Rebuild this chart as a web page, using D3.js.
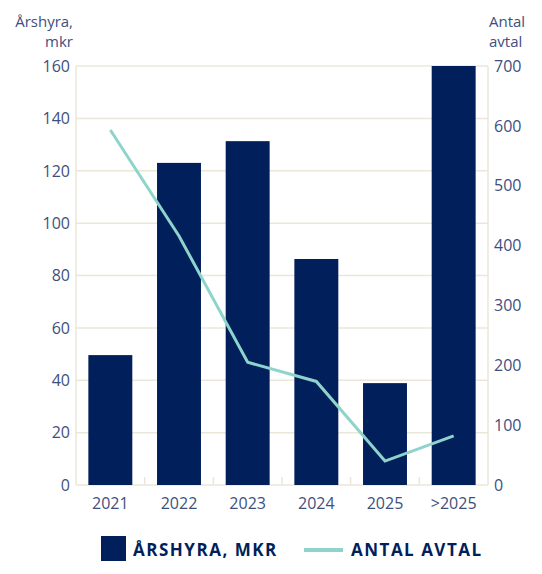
<!DOCTYPE html>
<html>
<head>
<meta charset="utf-8">
<script src="https://cdn.jsdelivr.net/npm/d3@7"></script>
<style>
  body { margin: 0; background: #fff; }
  svg text { font-family: "Open Sans", sans-serif; }
</style>
</head>
<body>
<svg id="chart" width="542" height="574"></svg>
<script>
// Data
var years = ['2021', '2022', '2023', '2024', '2025', '>2025'];
var rent = [49.6, 123, 131.3, 86.3, 38.9, 160];      // Årshyra, mkr (left axis)
var contracts = [593, 416, 205, 173, 40, 82];         // Antal avtal (right axis)
var leftTicks = [0, 20, 40, 60, 80, 100, 120, 140, 160];
var rightTicks = [0, 100, 200, 300, 400, 500, 600, 700];

var navy = '#001f5b';
var teal = '#8ed4cd';
var textCol = '#3e4f7e';
var gridCol = '#ebe7d8';

var svg = d3.select('#chart');
var m = {left: 76, right: 488, top: 66, bottom: 485};

var x = d3.scaleBand().domain(years).range([m.left, m.right]).paddingInner(0.36).paddingOuter(0.18);
var yL = d3.scaleLinear().domain([0, 160]).range([m.bottom, m.top]);
var yR = d3.scaleLinear().domain([0, 700]).range([m.bottom, m.top]);

// Gridlines
svg.append('g').selectAll('line')
    .data(leftTicks)
    .enter().append('line')
    .attr('x1', m.left).attr('x2', m.right)
    .attr('y1', function(d) { return yL(d); })
    .attr('y2', function(d) { return yL(d); })
    .attr('stroke', gridCol).attr('stroke-width', 1.5);

// Frame sides
svg.append('line').attr('x1', m.left).attr('x2', m.left).attr('y1', m.top).attr('y2', m.bottom)
    .attr('stroke', gridCol).attr('stroke-width', 1.5);
svg.append('line').attr('x1', m.right).attr('x2', m.right).attr('y1', m.top).attr('y2', m.bottom)
    .attr('stroke', gridCol).attr('stroke-width', 1.5);

// Small ticks between categories
var step = x.step();
svg.append('g').selectAll('line')
    .data(years.slice(1))
    .enter().append('line')
    .attr('x1', function(d) { return x(d) - x.paddingInner() * step / 2; })
    .attr('x2', function(d) { return x(d) - x.paddingInner() * step / 2; })
    .attr('y1', m.bottom - 8).attr('y2', m.bottom)
    .attr('stroke', gridCol).attr('stroke-width', 1.5);

// Bars
svg.append('g').selectAll('rect')
    .data(rent)
    .enter().append('rect')
    .attr('x', function(d, i) { return x(years[i]); })
    .attr('y', function(d) { return yL(d); })
    .attr('width', x.bandwidth())
    .attr('height', function(d) { return m.bottom - yL(d); })
    .attr('fill', navy);

// Line
var line = d3.line()
    .x(function(d, i) { return x(years[i]) + x.bandwidth() / 2; })
    .y(function(d) { return yR(d); });
svg.append('path')
    .datum(contracts)
    .attr('d', line)
    .attr('fill', 'none')
    .attr('stroke', teal)
    .attr('stroke-width', 3);

// Axis labels
svg.append('g').selectAll('text')
    .data(leftTicks)
    .enter().append('text')
    .attr('x', 70).attr('y', function(d) { return yL(d); })
    .attr('dy', '0.36em')
    .attr('text-anchor', 'end')
    .attr('font-size', 16).attr('fill', textCol)
    .text(function(d) { return d; });

svg.append('g').selectAll('text')
    .data(rightTicks)
    .enter().append('text')
    .attr('x', 494).attr('y', function(d) { return yR(d); })
    .attr('dy', '0.36em')
    .attr('font-size', 16).attr('fill', textCol)
    .text(function(d) { return d; });

svg.append('g').selectAll('text')
    .data(years)
    .enter().append('text')
    .attr('x', function(d) { return x(d) + x.bandwidth() / 2; })
    .attr('y', 509)
    .attr('text-anchor', 'middle')
    .attr('font-size', 16).attr('fill', textCol)
    .text(function(d) { return d; });

// Axis titles
var lt = svg.append('text').attr('text-anchor', 'end').attr('font-size', 15).attr('fill', textCol);
lt.append('tspan').attr('x', 73).attr('y', 27).text('Årshyra,');
lt.append('tspan').attr('x', 73).attr('y', 47).text('mkr');
var rt = svg.append('text').attr('text-anchor', 'start').attr('font-size', 15).attr('fill', textCol);
rt.append('tspan').attr('x', 489).attr('y', 27).text('Antal');
rt.append('tspan').attr('x', 489).attr('y', 47).text('avtal');

// Legend
svg.append('rect').attr('x', 101).attr('y', 536).attr('width', 25).attr('height', 25).attr('fill', navy);
svg.append('text').attr('x', 133).attr('y', 556).attr('font-size', 17).attr('font-weight', 'bold')
    .attr('fill', navy).attr('letter-spacing', 1.5).text('ÅRSHYRA, MKR');
svg.append('line').attr('x1', 304).attr('x2', 343).attr('y1', 550).attr('y2', 550)
    .attr('stroke', teal).attr('stroke-width', 4);
svg.append('text').attr('x', 351).attr('y', 556).attr('font-size', 17).attr('font-weight', 'bold')
    .attr('fill', navy).attr('letter-spacing', 1.5).text('ANTAL AVTAL');
</script>
</body>
</html>
